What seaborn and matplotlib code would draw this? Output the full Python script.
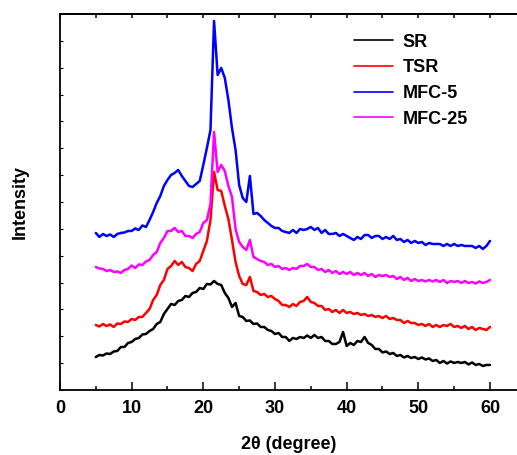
import numpy as np
import pandas as pd
import matplotlib
matplotlib.use('Agg')
import matplotlib.pyplot as plt
import seaborn as sns

# XRD patterns, intensity in arbitrary units (curves are offset as in the original)
two_theta = np.arange(5, 60.5, 0.5)

sr = [33, 35, 34.5, 36.5, 36, 38.5, 39, 43, 43, 47,
      48, 51, 52, 55.5, 56, 59, 61, 66, 68, 76,
      81, 86, 85, 89, 90, 94, 93, 97, 98, 102,
      101, 106, 105.5, 109, 106, 105, 97, 92, 83, 87,
      74, 73, 69, 69.5, 66, 66.5, 63, 63, 60, 59,
      56, 57, 53, 53, 49, 52, 51, 53, 52, 54.5,
      52, 55, 52, 53, 49, 49, 46, 46, 48, 58,
      44, 47, 45, 49, 48, 53, 47, 45, 41, 41,
      37.5, 38.5, 36, 37, 34, 35, 32.5, 34, 32, 33,
      31, 32.5, 30.5, 31.5, 29, 30, 27, 29, 26.5, 28.5,
      27, 28, 27, 28, 25.5, 27.5, 25, 26, 24, 25,
      25]

tsr = [65, 63.5, 66, 64, 65.5, 63, 66.5, 66, 68.5, 68,
       71, 70, 73, 73, 77, 81, 90, 95, 105, 110,
       121, 124, 129, 125, 128, 123, 122, 119, 126, 129,
       139, 149, 170, 218, 200, 199, 184, 171, 150, 128,
       114, 106, 105, 113, 99, 98, 95, 96, 93, 94,
       91, 89, 85, 85, 83, 86, 84, 88, 89, 93,
       88, 87, 84, 84, 80, 81, 78, 80, 77, 80,
       77, 78, 76, 77, 75, 76, 74, 75, 73, 74,
       72, 74, 71, 72, 70, 70, 67, 69, 67, 67,
       65, 66, 64, 66, 63, 65, 63, 65, 64, 66,
       63, 64, 62, 64, 61, 63, 60, 62, 61, 60,
       63]

mfc5 = [157, 153, 156, 154, 155.5, 153, 156, 157, 157.5, 159,
        159, 161.5, 160, 164.5, 163, 170, 178, 187, 194, 204,
        210, 215, 217, 220, 214, 209, 204, 203, 206, 209,
        225, 242, 260, 369, 315, 322, 312, 290, 262, 240,
        205, 192, 188, 214, 176, 177, 174, 170, 167, 164,
        162, 162, 159, 158, 157, 160, 157, 161, 160, 161,
        163, 160, 162, 157, 160, 156, 156, 157, 154, 156,
        154, 152, 150, 153, 151, 155, 155, 152, 154, 154,
        151, 153, 151, 154, 150, 151, 148, 150, 147, 149,
        147, 148, 145, 147, 146, 146, 146, 144, 146, 144,
        146, 144, 145, 144, 144, 144, 142, 144, 141, 144,
        149]

mfc25 = [123, 121.5, 121, 119, 120, 118, 118.5, 117, 120, 121,
         124.5, 122, 125.5, 125, 128.5, 130, 135, 138, 147, 152,
         159, 159, 162, 158, 159, 154, 154, 152, 156, 158,
         167, 170, 186, 258, 218, 225, 219, 204, 193, 161,
         148, 143, 140, 150, 133, 131, 129, 128, 125, 126,
         123, 124, 121, 122, 120, 122, 121, 124, 124, 126,
         123, 123, 120, 121, 118, 120, 117, 119, 116, 118,
         116, 118, 115, 117, 115, 117, 114, 116, 113, 115,
         114, 115, 113, 114, 111, 113, 110, 112, 109, 111,
         109, 110, 108.5, 110, 108.5, 110, 108, 110, 107, 109,
         108, 109, 107, 109, 107, 108, 106.5, 108.5, 107, 108,
         110]

samples = ['SR', 'TSR', 'MFC-5', 'MFC-25']
colors = ['#000000', '#ff0000', '#0000ff', '#ff00ff']

frames = []
for name, vals in zip(samples, [sr, tsr, mfc5, mfc25]):
    frames.append(pd.DataFrame({'2theta': two_theta, 'intensity': vals, 'sample': name}))
df = pd.concat(frames, ignore_index=True)

sns.set_style('ticks')
plt.rcParams['font.family'] = ['Liberation Sans', 'DejaVu Sans']
plt.rcParams['font.weight'] = 'bold'
plt.rcParams['text.color'] = 'black'
plt.rcParams['axes.labelcolor'] = 'black'
plt.rcParams['axes.edgecolor'] = 'black'
plt.rcParams['xtick.color'] = 'black'
plt.rcParams['ytick.color'] = 'black'

fig = plt.figure(figsize=(5.17, 4.55), dpi=100)
ax = fig.add_axes([0.116, 0.1429, 0.884, 0.8264])

sns.lineplot(data=df, x='2theta', y='intensity', hue='sample', hue_order=samples,
             palette=colors, linewidth=1.8, estimator=None, sort=False, ax=ax)

ax.set_xlim(0, 63.77)
ax.set_ylim(0, 376)
ax.set_xticks(np.arange(0, 61, 10))
ax.set_xticks(np.arange(5, 61, 10), minor=True)
ax.set_yticks(np.linspace(0, 376, 15))
ax.set_yticklabels([])
ax.tick_params(axis='x', which='major', direction='in', length=6, width=1.1,
               labelsize=13, pad=7)
ax.tick_params(axis='x', which='minor', direction='in', length=3, width=1.1)
ax.tick_params(axis='y', direction='in', length=2.5, width=0.8)
for lab in ax.get_xticklabels():
    lab.set_fontweight('bold')

top = ax.secondary_xaxis('top')
top.set_xticks(np.arange(0, 61, 5))
top.tick_params(direction='in', length=3, width=1.1, labeltop=False)
top.spines['top'].set_linewidth(1.3)
for s in ['left', 'right', 'bottom']:
    top.spines[s].set_visible(False)

ax.spines['right'].set_visible(False)
for s in ['left', 'bottom', 'top']:
    ax.spines[s].set_linewidth(1.3)

ax.set_xlabel('2θ (degree)', fontsize=13, fontweight='bold', labelpad=14)
ax.set_ylabel('Intensity', fontsize=13, fontweight='bold', labelpad=19)

leg = ax.legend(loc='upper left', bbox_to_anchor=(0.643, 0.948), frameon=False,
                borderpad=0, borderaxespad=0, handlelength=2.15, handletextpad=0.55,
                labelspacing=0.48, prop={'size': 13, 'weight': 'bold'})
for h in leg.get_lines():
    h.set_linewidth(1.2)

fig.savefig('out.png', dpi=100)
